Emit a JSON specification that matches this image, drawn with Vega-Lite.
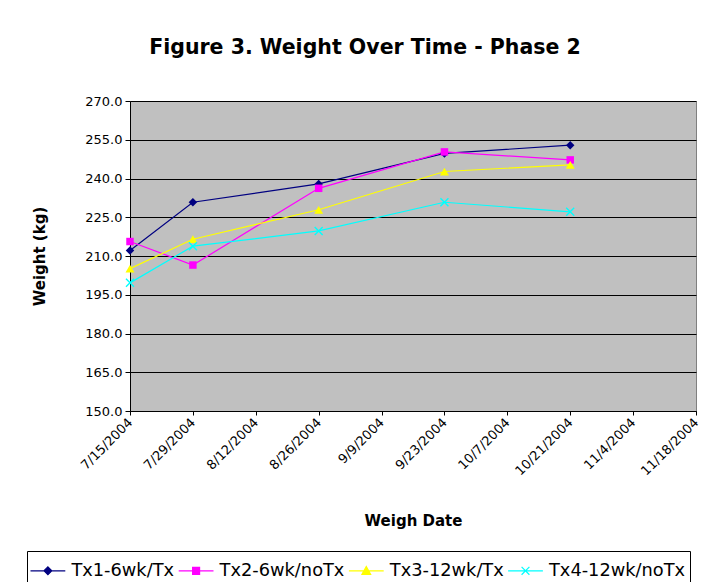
{
  "$schema": "https://vega.github.io/schema/vega-lite/v6.json",
  "autosize": {"type": "none"},
  "width": 566,
  "height": 310,
  "padding": {"left": 130, "top": 101, "right": 8, "bottom": 171},
  "background": "white",
  "title": {
    "text": "Figure 3. Weight Over Time - Phase 2",
    "font": "DejaVu Sans",
    "fontSize": 20.5,
    "fontWeight": "bold",
    "color": "#000000",
    "anchor": "middle",
    "frame": "group",
    "dx": -48,
    "offset": 21,
    "baseline": "alphabetic"
  },
  "data": {
    "values": [
      {"series": "Tx1-6wk/Tx", "date": "2004-07-15", "weight": 212.1},
      {"series": "Tx1-6wk/Tx", "date": "2004-07-29", "weight": 230.8},
      {"series": "Tx1-6wk/Tx", "date": "2004-08-26", "weight": 237.9},
      {"series": "Tx1-6wk/Tx", "date": "2004-09-23", "weight": 249.7},
      {"series": "Tx1-6wk/Tx", "date": "2004-10-21", "weight": 252.9},
      {"series": "Tx2-6wk/noTx", "date": "2004-07-15", "weight": 215.6},
      {"series": "Tx2-6wk/noTx", "date": "2004-07-29", "weight": 206.5},
      {"series": "Tx2-6wk/noTx", "date": "2004-08-26", "weight": 236.2},
      {"series": "Tx2-6wk/noTx", "date": "2004-09-23", "weight": 250.3},
      {"series": "Tx2-6wk/noTx", "date": "2004-10-21", "weight": 247.2},
      {"series": "Tx3-12wk/Tx", "date": "2004-07-15", "weight": 205.1},
      {"series": "Tx3-12wk/Tx", "date": "2004-07-29", "weight": 216.5},
      {"series": "Tx3-12wk/Tx", "date": "2004-08-26", "weight": 227.9},
      {"series": "Tx3-12wk/Tx", "date": "2004-09-23", "weight": 242.7},
      {"series": "Tx3-12wk/Tx", "date": "2004-10-21", "weight": 245.3},
      {"series": "Tx4-12wk/noTx", "date": "2004-07-15", "weight": 199.6},
      {"series": "Tx4-12wk/noTx", "date": "2004-07-29", "weight": 213.8},
      {"series": "Tx4-12wk/noTx", "date": "2004-08-26", "weight": 219.7},
      {"series": "Tx4-12wk/noTx", "date": "2004-09-23", "weight": 230.8},
      {"series": "Tx4-12wk/noTx", "date": "2004-10-21", "weight": 227.1}
    ]
  },
  "encoding": {
    "x": {
      "field": "date",
      "type": "temporal",
      "scale": {
        "type": "utc",
        "domain": [
          {"year": 2004, "month": 7, "date": 15, "utc": true},
          {"year": 2004, "month": 11, "date": 18, "utc": true}
        ]
      },
      "axis": {
        "values": [
          {"year": 2004, "month": 7, "date": 15, "utc": true},
          {"year": 2004, "month": 7, "date": 29, "utc": true},
          {"year": 2004, "month": 8, "date": 12, "utc": true},
          {"year": 2004, "month": 8, "date": 26, "utc": true},
          {"year": 2004, "month": 9, "date": 9, "utc": true},
          {"year": 2004, "month": 9, "date": 23, "utc": true},
          {"year": 2004, "month": 10, "date": 7, "utc": true},
          {"year": 2004, "month": 10, "date": 21, "utc": true},
          {"year": 2004, "month": 11, "date": 4, "utc": true},
          {"year": 2004, "month": 11, "date": 18, "utc": true}
        ],
        "labelExpr": "utcFormat(datum.value, '%-m/%-d/%Y')",
        "labelAngle": -45,
        "labelAlign": "right",
        "labelBaseline": "middle",
        "labelPadding": 5,
        "labelFont": "DejaVu Sans",
        "labelFontSize": 13,
        "labelColor": "#000000",
        "labelOverlap": false,
        "labelFlush": false,
        "tickSize": 4,
        "tickColor": "#000000",
        "domainColor": "#000000",
        "grid": false,
        "title": "Weigh Date",
        "titleFont": "DejaVu Sans",
        "titleFontSize": 15,
        "titleFontWeight": "bold",
        "titleColor": "#000000",
        "titlePadding": 36
      }
    },
    "y": {
      "field": "weight",
      "type": "quantitative",
      "scale": {"domain": [150, 270], "nice": false, "zero": false},
      "axis": {
        "values": [150, 165, 180, 195, 210, 225, 240, 255, 270],
        "format": ".1f",
        "labelFont": "DejaVu Sans",
        "labelFontSize": 13,
        "labelColor": "#000000",
        "labelPadding": 3,
        "tickSize": 5,
        "tickColor": "#000000",
        "domainColor": "#000000",
        "grid": true,
        "gridColor": "#000000",
        "gridOpacity": 1,
        "gridWidth": 1,
        "title": "Weight (kg)",
        "titleFont": "DejaVu Sans",
        "titleFontSize": 15,
        "titleFontWeight": "bold",
        "titleColor": "#000000",
        "titlePadding": 37
      }
    },
    "color": {
      "field": "series",
      "type": "nominal",
      "scale": {
        "domain": ["Tx1-6wk/Tx", "Tx2-6wk/noTx", "Tx3-12wk/Tx", "Tx4-12wk/noTx"],
        "range": ["#000080", "#FF00FF", "#FFFF00", "#00FFFF"]
      },
      "legend": {
        "orient": "none",
        "legendX": -103,
        "legendY": 450,
        "direction": "horizontal",
        "title": null,
        "strokeColor": "#000000",
        "fillColor": "#FFFFFF",
        "padding": 4,
        "labelFont": "DejaVu Sans",
        "labelFontSize": 17.8,
        "labelColor": "#000000",
        "labelOffset": 8,
        "symbolOffset": 1.4,
        "symbolSize": 841,
        "symbolStrokeWidth": 1.2,
        "symbolOpacity": 1,
        "columnPadding": 1.2
      }
    }
  },
  "layer": [
    {
      "mark": {"type": "line", "strokeWidth": 1.2}
    },
    {
      "transform": [{"filter": "datum.series === 'Tx1-6wk/Tx'"}],
      "mark": {"type": "point", "shape": "diamond", "filled": true, "opacity": 1, "size": 72}
    },
    {
      "transform": [{"filter": "datum.series === 'Tx2-6wk/noTx'"}],
      "mark": {"type": "point", "shape": "square", "filled": true, "opacity": 1, "size": 56}
    },
    {
      "transform": [{"filter": "datum.series === 'Tx3-12wk/Tx'"}],
      "mark": {"type": "point", "shape": "triangle-up", "filled": true, "opacity": 1, "size": 80}
    },
    {
      "transform": [{"filter": "datum.series === 'Tx4-12wk/noTx'"}],
      "mark": {"type": "point", "shape": "M-1,-1L1,1M-1,1L1,-1", "filled": false, "opacity": 1, "size": 64, "strokeWidth": 1.4}
    },
    {
      "mark": {"type": "point", "filled": true, "opacity": 0},
      "encoding": {
        "shape": {
          "field": "series",
          "type": "nominal",
          "scale": {
            "domain": ["Tx1-6wk/Tx", "Tx2-6wk/noTx", "Tx3-12wk/Tx", "Tx4-12wk/noTx"],
            "range": [
              "M-1.2,0H1.2M0,-0.27L0.27,0L0,0.27L-0.27,0Z",
              "M-1.2,0H1.2M-0.24,-0.24H0.24V0.24H-0.24Z",
              "M-1.2,0H1.2M0,-0.3L0.3,0.24H-0.3Z",
              "M-1.2,0H1.2M-0.27,-0.27L0.27,0.27M-0.27,0.27L0.27,-0.27"
            ]
          }
        }
      }
    }
  ],
  "config": {
    "view": {"fill": "#C0C0C0", "stroke": "#808080", "strokeWidth": 1},
    "font": "DejaVu Sans",
    "legend": {"symbolOpacity": 1}
  }
}
